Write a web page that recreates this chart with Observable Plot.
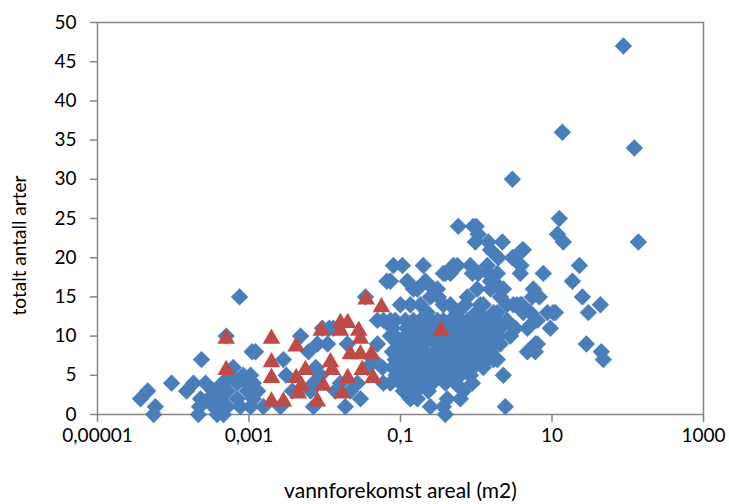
<!DOCTYPE html>
<html>
<head>
<meta charset="utf-8">
<script src="https://cdn.jsdelivr.net/npm/d3@7"></script>
<script src="https://cdn.jsdelivr.net/npm/@observablehq/plot@0.6"></script>
<style>
  html, body { margin: 0; padding: 0; background: #ffffff; }
  #chart { width: 729px; height: 504px; }
</style>
</head>
<body>
<div id="chart"></div>
<script>
// x tick values (m2) and their Norwegian labels
const xTicks = [1e-5, 1e-3, 0.1, 10, 1000];
const xTickLabels = ["0,00001", "0,001", "0,1", "10", "1000"];
const yTicks = [0, 5, 10, 15, 20, 25, 30, 35, 40, 45, 50];

const xTitle = "vannforekomst areal (m2)";
const yTitle = "totalt antall arter";

// Series 1 (blue diamonds): [area m2, species count]
const diamondPoints = [
  [3.7e-5,2],[4.6e-5,3],[5.8e-5,1],[5.5e-5,0],[9.5e-5,4],[1.5e-4,3],[1.85e-4,4],[2.36e-4,7],[2.67e-4,4],
  [2.29e-4,2],[2.92e-4,2],[2.22e-4,1],[3.4e-4,1],[2.15e-4,0],[3.4e-4,3],[4.46e-4,4],[5.2e-4,3],[3.8e-4,0],
  [4.6e-4,0],[4.2e-4,2],[5.2e-4,1],[6.2e-4,6],[7.0e-4,4],[7.0e-4,2],[7.7e-4,1],[8.4e-4,5],[9.5e-4,4],
  [9.5e-4,3],[1.05e-3,1],[1.14e-3,2],[1.14e-3,4],[1.3e-3,3],[7.5e-4,15],[5.0e-4,10],[1.1e-3,8],[5.7e-4,5],
  [1.22e-3,8],[1.05e-3,5],[1.55e-3,1],[2.85e-3,7],[3.1e-3,5],[3.74e-3,3],[2.6e-3,1],[4.8e-3,10],[6.1e-3,8],
  [6.5e-3,3],[7.1e-3,1],[9.3e-3,11],[0.0109,9],[8.0e-3,9],[7.6e-3,6],[8.8e-3,5],[7.1e-3,4],[0.0161,4],
  [0.0138,3],[0.0187,1],[0.0296,2],[0.0218,3],[0.027,4],[0.0366,6],[0.0345,15],[0.0496,12],[0.0595,12],
  [0.0496,9],[0.0736,10],[0.0439,7],[0.0577,6],[0.0595,4],[0.013,11],[0.0199,9],[0.0115,11],
  [0.066,17],[0.0806,19],[0.106,19],[0.123,17],[0.167,16],[0.2,19],[0.213,17],[0.248,15],[0.272,16],
  [0.307,16],[0.316,15],[0.368,18],[0.391,18],[0.455,18],[0.5,19],[0.563,19],[0.58,24],[0.763,15],
  [0.836,19],[0.889,18],[0.915,24],[1.0,24],[1.03,16],[1.06,23],[1.06,18],[0.973,22],[1.44,22],[1.44,18],
  [1.54,17],[1.54,16],[1.54,21],[1.9,18],[1.96,20],[2.21,22],[2.28,16],[3.0,20],[4.06,21],[3.82,18],
  [7.69,18],[0.0736,17],[0.148,16],
  [0.226,13],[0.455,14],[0.718,14],[1.13,14],[2.54,14],[3.82,14],[5.18,13],[1.69,13],[1.06,13],[0.563,13],
  [0.368,12],[0.183,12],[0.135,11],[0.763,12],[2.54,12],[6.4,12],[0.336,11],[0.0998,14],[0.135,14],
  [0.183,14],[0.368,14],[1.24,14],[2.08,15],[3.44,14],[8.7,13],[10.4,13],[9.51,11],[0.0736,12],[0.12,11],
  [0.148,12],[0.2,11],[0.307,12],[0.75,11],[1.0,13],
  [1.4,19],[1.69,17],[2.08,16],[3.09,20],[4.18,21],[3.9,19],[5.67,16],[6.8,15],[5.5,15],[3.09,14],
  [4.18,13],[6.03,12],[4.73,11],[3.28,11],[2.82,10],[2.08,9],[1.44,10],[1.54,12],[1.9,13],[6.4,9],
  [4.73,8],[6.03,8],[6.03,9],[1.13,7],[1.24,6],[1.9,7],[2.28,5],[2.42,1],[1.69,7],[11.1,13],[4.0,14],
  [87.6,47],[13.7,36],[122,34],[3.0,30],[138,22],[12.5,25],[11.8,23],[14.1,22],[23,19],[18.6,17],
  [25.2,15],[43.5,14],[30.2,13],[28.4,9],[44.8,8],[47.6,7],
  [0.0853,12],[0.116,12],[0.248,12],[0.455,12],[0.617,12],[0.973,12],[1.32,12],[1.79,12],
  [0.0782,11],[0.157,11],[0.264,11],[0.415,11],[0.53,11],[0.836,11],[1.13,11],[1.64,11],[2.08,11],
  [0.0853,10],[0.116,10],[0.172,10],[0.233,10],[0.316,10],[0.428,10],[0.58,10],[0.785,10],[1.06,10],[1.54,10],[1.96,10],
  [0.0933,9],[0.135,9],[0.195,9],[0.289,9],[0.391,9],[0.53,9],[0.676,9],[0.915,9],[1.32,9],[1.69,9],
  [0.0782,8],[0.109,8],[0.157,8],[0.213,8],[0.289,8],[0.357,8],[0.484,8],[0.617,8],[0.836,8],[1.13,8],[1.54,8],
  [0.0853,7],[0.127,7],[0.172,7],[0.248,7],[0.336,7],[0.455,7],[0.58,7],[0.785,7],[1.03,7],[1.4,7],
  [0.0782,6],[0.106,6],[0.148,6],[0.213,6],[0.289,6],[0.391,6],[0.53,6],[0.718,6],[0.915,6],
  [0.0879,5],[0.127,5],[0.172,5],[0.233,5],[0.336,5],[0.455,5],[0.617,5],[0.836,5],
  [0.0736,4],[0.0998,4],[0.135,4],[0.183,4],[0.264,4],[0.391,4],[0.53,4],[0.889,4],
  [0.109,3],[0.162,3],[0.233,3],[0.676,3],
  [0.135,2],[0.167,2],[0.415,2],[0.617,2],
  [0.368,1],[0.248,1],[0.391,0]
];

// Series 2 (red triangles): [area m2, species count]
const trianglePoints = [
  [5.0e-4,10],[5.0e-4,6],[1.98e-3,10],[1.98e-3,7],[1.98e-3,5],[1.98e-3,2],[2.85e-3,2],[4.2e-3,9],
  [4.2e-3,5],[5.56e-3,6],[4.93e-3,4],[4.49e-3,3],[8.0e-3,2],[9.0e-3,11],[9.6e-3,4],[0.0119,7],
  [0.0125,6],[0.0161,12],[0.0161,11],[0.017,3],[0.0201,12],[0.0201,5],[0.0218,8],[0.0281,11],
  [0.0296,10],[0.0296,8],[0.0312,6],[0.0352,15],[0.0413,8],[0.0435,5],[0.056,14],[0.343,11]
];

const blue = "#4a7ebb";
const red = "#be4b48";
const axisGray = "#868686";

const chart = Plot.plot({
  width: 729,
  height: 504,
  marginLeft: 97,
  marginRight: 26,
  marginTop: 22,
  marginBottom: 90,
  style: { fontFamily: "Lato, 'Open Sans', sans-serif", fontSize: "19px", color: "#000", background: "#fff" },
  x: { type: "log", domain: [1e-5, 1000] },
  y: { domain: [0, 50] },
  marks: [
    Plot.frame({ stroke: axisGray, strokeWidth: 1.5 }),
    Plot.axisX({
      ticks: xTicks,
      tickFormat: d => xTickLabels[xTicks.indexOf(d)],
      tickSize: 8,
      tickPadding: 6,
      stroke: axisGray,
      strokeWidth: 1.5,
      fill: "#000",
      label: null
    }),
    Plot.axisY({
      ticks: yTicks,
      tickSize: 7,
      tickPadding: 14,
      stroke: axisGray,
      strokeWidth: 1.5,
      fill: "#000",
      label: null
    }),
    Plot.dot(diamondPoints, { x: d => d[0], y: d => d[1], symbol: "diamond2", r: 7.6, fill: blue, stroke: blue, strokeWidth: 0.5 }),
    Plot.dot(trianglePoints, { x: d => d[0], y: d => d[1], symbol: "triangle2", r: 8.4, fill: red, dy: 2.5 }),
    Plot.text([xTitle], { frameAnchor: "bottom", dy: 77, lineAnchor: "middle", textAnchor: "middle", fontSize: 21, fill: "#000" }),
    Plot.text([yTitle], { frameAnchor: "left", dx: -78, dy: 27, rotate: -90, lineAnchor: "middle", textAnchor: "middle", fontSize: 19, fill: "#000" })
  ]
});
document.getElementById("chart").appendChild(chart);
</script>
</body>
</html>
